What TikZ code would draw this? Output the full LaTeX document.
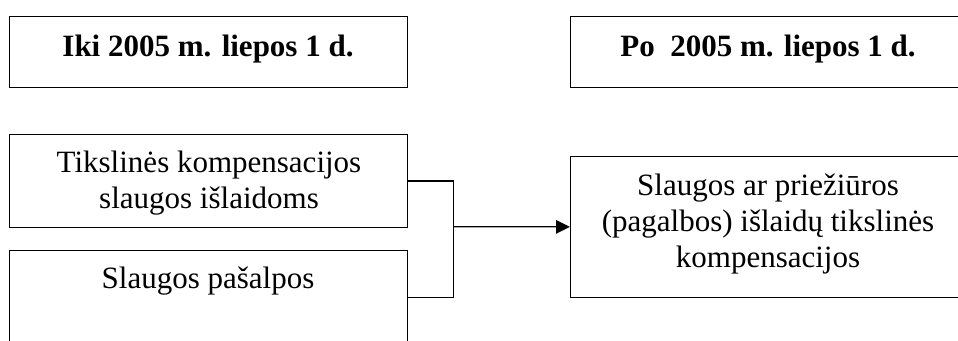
\documentclass[tikz,border=0pt]{standalone}
\usepackage{fontspec}
\setmainfont{Liberation Serif}
\usetikzlibrary{arrows.meta}
\tikzset{
  boxstyle/.style={draw, line width=0.5pt, rectangle, inner sep=0pt, anchor=north west},
  txt/.style={anchor=base, inner sep=0pt, align=center, font=\fontsize{12.4pt}{14.4pt}\selectfont},
  hdr/.style={txt, font=\fontsize{12.4pt}{14.4pt}\selectfont\bfseries},
  conn/.style={line width=0.5pt},
}
\begin{document}
\begin{tikzpicture}[x=0.4pt, y=-0.4pt]
\useasboundingbox (0,0) rectangle (958,340);
\clip (0,0) rectangle (958,340);
% boxes (pixel coordinates)
\node[boxstyle, minimum width=398*0.4pt, minimum height=71*0.4pt] (b1) at (8.5,16) {};
\node[boxstyle, minimum width=398*0.4pt, minimum height=93.5*0.4pt] (b2) at (8.5,133.5) {};
\node[boxstyle, minimum width=398*0.4pt, minimum height=93.5*0.4pt] (b3) at (8.5,250) {};
\node[boxstyle, minimum width=400*0.4pt, minimum height=71*0.4pt] (b5) at (570,16) {};
\node[boxstyle, minimum width=400*0.4pt, minimum height=140.5*0.4pt] (b4) at (570,156) {};
% texts (base = baseline of the last line)
\node[hdr] (t1) at (208,56) {Iki 2005 m. liepos 1 d.};
\node[hdr] (t5) at (768,56) {Po\ \ 2005 m. liepos 1 d.};
\node[txt] (t2) at (209,208) {Tikslinės kompensacijos\\slaugos išlaidoms};
\node[txt] (t3) at (208,288) {Slaugos pašalpos};
\node[txt] (t4) at (768,267) {Slaugos ar priežiūros\\(pagalbos) išlaidų tikslinės\\kompensacijos};
% connectors
\coordinate (j) at (453.3,226.7);
\draw[conn] (b2.east) -| (j) |- (b3.east);
\draw[conn, -{Triangle[length=5.6pt, width=5.4pt]}] (j) -- (b4.west);
\end{tikzpicture}
\end{document}
